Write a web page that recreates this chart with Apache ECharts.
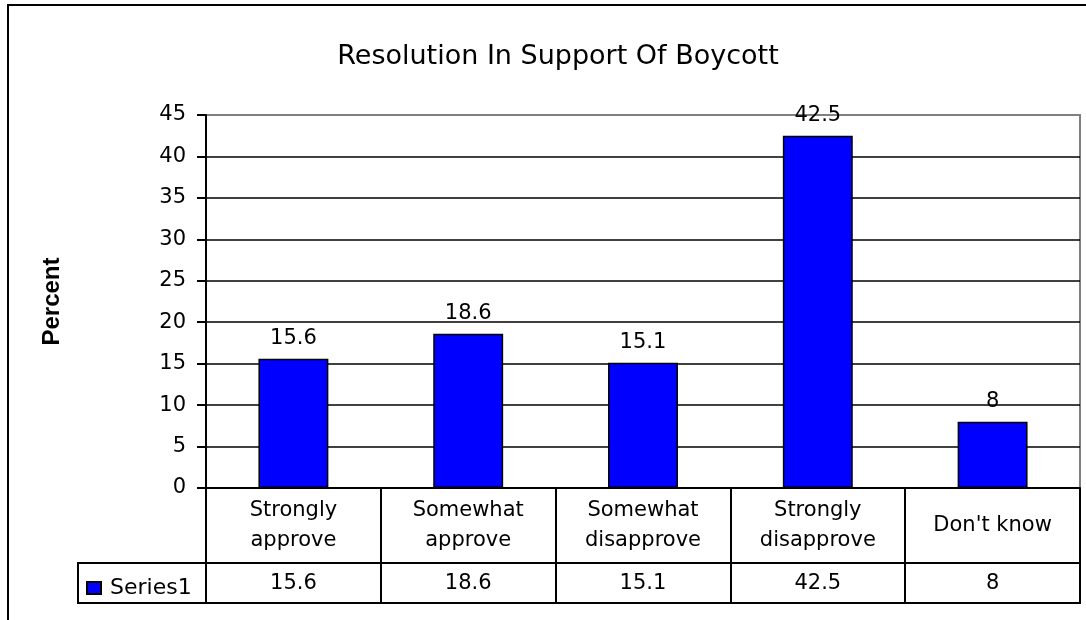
<!DOCTYPE html>
<html>
<head>
<meta charset="utf-8">
<script src="https://cdn.jsdelivr.net/npm/echarts@6/dist/echarts.min.js"></script>
<style>
body { margin: 0; background: #fff; }
#chart { width: 1086px; height: 620px; }
</style>
</head>
<body>
<div id="chart"></div>
<script>
// data
const chartTitle = "Resolution In Support Of Boycott";
const categories = ["Strongly approve", "Somewhat approve", "Somewhat disapprove", "Strongly disapprove", "Don't know"];
const seriesName = "Series1";
const series1 = [15.6, 18.6, 15.1, 42.5, 8];
const yMin = 0;
const yMax = 45;
const yStep = 5;

const font = "DejaVu Sans";

let ec = echarts.init(document.getElementById("chart"));

const option = {
  animation: false,
  backgroundColor: "#fff",
  title: {
    text: chartTitle,
    left: 553,
    textAlign: "center",
    top: 38,
    textStyle: { fontFamily: font, fontSize: 27, fontWeight: "normal", color: "#000" }
  },
  legend: {
    data: [seriesName],
    left: 81,
    top: 572,
    icon: "rect",
    itemWidth: 14,
    itemHeight: 12,
    textStyle: { fontFamily: font, fontSize: 22, color: "#000", padding: [0, 0, 0, 4] }
  },
  grid: {
    left: 206,
    right: 6,
    top: 115,
    bottom: 132,
    show: true,
    borderColor: "#808080",
    borderWidth: 2
  },
  xAxis: [
    {
      // categories + table column lines
      type: "category",
      data: categories,
      position: "bottom",
      axisLine: { lineStyle: { color: "#000", width: 2 } },
      axisTick: { show: true, length: 114, interval: 0, lineStyle: { color: "#000", width: 2 } },
      axisLabel: {
        interval: 0,
        margin: 38,
        verticalAlign: "middle",
        lineHeight: 30,
        fontFamily: font,
        fontSize: 21,
        color: "#000",
        // two-word long names go on two lines
        formatter: v => (v.length > 12 ? v.replace(" ", "\n") : v)
      }
    },
    {
      // values row of the data table
      type: "category",
      data: categories,
      position: "bottom",
      axisLine: { show: false },
      axisTick: { show: false },
      axisLabel: {
        interval: 0,
        margin: 96,
        verticalAlign: "middle",
        fontFamily: font,
        fontSize: 21,
        color: "#000",
        formatter: (v, i) => String(series1[i])
      }
    }
  ],
  yAxis: {
    type: "value",
    min: yMin,
    max: yMax,
    interval: yStep,
    name: "Percent",
    nameLocation: "middle",
    nameRotate: 90,
    nameGap: 142,
    nameTextStyle: { fontFamily: "Liberation Sans", fontSize: 24, fontWeight: "bold", color: "#000" },
    axisLine: { show: true, lineStyle: { color: "#000", width: 2 } },
    axisTick: { show: true, length: 9, lineStyle: { color: "#000", width: 2 } },
    axisLabel: { margin: 20, fontFamily: font, fontSize: 21, color: "#000" },
    splitLine: { show: true, showMaxLine: false, lineStyle: { color: "#000", width: 1.5 } }
  },
  series: [
    {
      name: seriesName,
      type: "bar",
      data: series1,
      barCategoryGap: "60%",
      itemStyle: { color: "#0000ff", borderColor: "#000", borderWidth: 1.5 },
      label: {
        show: true,
        position: "top",
        distance: 10,
        fontFamily: font,
        fontSize: 21,
        color: "#000"
      }
    }
  ],
  graphic: [
    // outer chart frame
    { type: "rect", shape: { x: 8, y: 5, width: 1200, height: 700 }, style: { fill: null, stroke: "#000", lineWidth: 2 }, silent: true },
    // series row of the data table
    { type: "rect", shape: { x: 78, y: 563, width: 1002, height: 40 }, style: { fill: null, stroke: "#000", lineWidth: 2 }, silent: true }
  ]
};

ec.setOption(option);
</script>
</body>
</html>
